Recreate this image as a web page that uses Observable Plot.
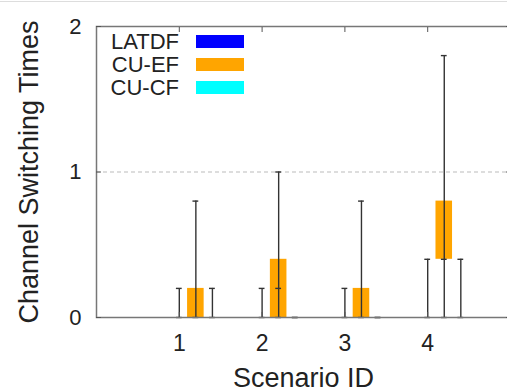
<!DOCTYPE html>
<html>
<head>
<meta charset="utf-8">
<script src="https://cdn.jsdelivr.net/npm/d3@7"></script>
<script src="https://cdn.jsdelivr.net/npm/@observablehq/plot@0.6"></script>
<style>
  html, body { margin: 0; padding: 0; background: #fff; overflow: hidden; width: 507px; height: 392px; }
  #wrap { position: relative; width: 507px; height: 392px; overflow: hidden; font-family: "Liberation Sans", Arial, Helvetica, sans-serif; }
  #topline { position: absolute; left: 0; top: 1px; width: 507px; height: 0; border-top: 1px solid #ddd; }
  #legend { position: absolute; left: 100px; top: 30px; }
  .row { display: flex; align-items: center; height: 23px; }
  .lab { width: 79px; text-align: right; font-size: 22px; color: #222; line-height: 23px; }
  .sw { width: 48px; height: 13px; margin-left: 17px; }
</style>
</head>
<body>
<div id="wrap"><div id="topline"></div></div>
<script>
// ---- data ----
const scenarios = [1, 2, 3, 4];
const seriesNames = ["LATDF", "CU-EF", "CU-CF"];
const seriesColors = ["#0000ff", "#ffa500", "#00ffff"];
// per series, per scenario: [min, q1, median, q3, max]
const latdfStats = [[0, 0, 0, 0, 0.2], [0, 0, 0, 0, 0.2], [0, 0, 0, 0, 0.2], [0, 0, 0, 0, 0.4]];
const cuefStats  = [[0, 0, 0, 0.2, 0.8], [0, 0, 0.2, 0.4, 1.0], [0, 0, 0, 0.2, 0.8], [0, 0.4, 0.4, 0.8, 1.8]];
const cucfStats  = [[0, 0, 0, 0, 0.2], [0, 0, 0, 0, 0], [0, 0, 0, 0, 0], [0, 0, 0, 0, 0.4]];
const yTicks = [0, 1, 2];
const gridValues = [1];
const xTitle = "Scenario ID";
const yTitle = "Channel Switching Times";

// ---- build table ----
const allStats = [latdfStats, cuefStats, cucfStats];
const rows = [];
allStats.forEach((stats, si) => {
  stats.forEach((s, k) => {
    rows.push({
      series: seriesNames[si], si, scenario: scenarios[k],
      pos: scenarios[k] + si * 0.2,
      min: s[0], q1: s[1], med: s[2], q3: s[3], max: s[4]
    });
  });
});
const boxHalf = 0.1, capHalf = 0.035;
const color = d3.scaleOrdinal(seriesNames, seriesColors);

const chart = Plot.plot({
  width: 512,
  height: 392,
  marginLeft: 96,
  marginRight: 2,
  marginTop: 26,
  marginBottom: 75,
  style: { fontFamily: "Liberation Sans, Arial, Helvetica, sans-serif", background: "transparent", color: "#222" },
  x: { domain: [0, 5] },
  y: { domain: [0, 2] },
  marks: [
    Plot.ruleY(gridValues, { stroke: "#bbb", strokeWidth: 1, strokeDasharray: "4,3" }),
    Plot.rect(rows.filter(d => d.q3 > d.q1), {
      x1: d => d.pos - boxHalf, x2: d => d.pos + boxHalf,
      y1: "q1", y2: "q3", fill: d => color(d.series)
    }),
    Plot.ruleX(rows, { x: "pos", y1: "min", y2: "max", stroke: "#333", strokeWidth: 1.4 }),
    Plot.ruleY(rows, { y: "max", x1: d => d.pos - capHalf, x2: d => d.pos + capHalf, stroke: "#333", strokeWidth: 1.4 }),
    Plot.ruleY(rows, { y: "min", x1: d => d.pos - capHalf, x2: d => d.pos + capHalf, stroke: "#333", strokeWidth: 1.4 }),
    Plot.ruleY(rows.filter(d => d.med > 0), { y: "med", x1: d => d.pos - capHalf, x2: d => d.pos + capHalf, stroke: "#333", strokeWidth: 1.4 }),
    Plot.frame({ stroke: "#777", strokeWidth: 1.5 }),
    Plot.axisY({ ticks: yTicks, tickSize: -5, tickPadding: 20, fontSize: 22, label: null, tickFormat: d3.format("d"), stroke: "#555" }),
    Plot.axisY({ anchor: "right", ticks: yTicks, tickSize: -5, tickFormat: () => "", label: null, stroke: "#555" }),
    Plot.axisX({ ticks: scenarios, tickSize: -5, tickPadding: 22, fontSize: 23, label: null, tickFormat: d3.format("d"), stroke: "#555" }),
    Plot.axisX({ anchor: "top", ticks: scenarios, tickSize: -5, tickFormat: () => "", label: null, stroke: "#555" }),
    Plot.text([yTitle], { frameAnchor: "left", dx: -78, rotate: -90, lineAnchor: "top", textAnchor: "middle", fontSize: 27, fill: "#222" }),
    Plot.text([xTitle], { frameAnchor: "bottom", dy: 69, lineAnchor: "bottom", textAnchor: "middle", fontSize: 27, fill: "#222" })
  ]
});
chart.style.position = "absolute";
chart.style.left = "0px";
chart.style.top = "0px";
chart.style.maxWidth = "none";
chart.style.width = "512px";
chart.style.height = "392px";
const wrap = document.getElementById("wrap");
wrap.appendChild(chart);

// legend overlay
const legend = document.createElement("div");
legend.id = "legend";
seriesNames.forEach((name, i) => {
  const row = document.createElement("div");
  row.className = "row";
  const lab = document.createElement("div");
  lab.className = "lab";
  lab.textContent = name;
  const sw = document.createElement("div");
  sw.className = "sw";
  sw.style.background = seriesColors[i];
  row.appendChild(lab);
  row.appendChild(sw);
  legend.appendChild(row);
});
wrap.appendChild(legend);
</script>
</body>
</html>
